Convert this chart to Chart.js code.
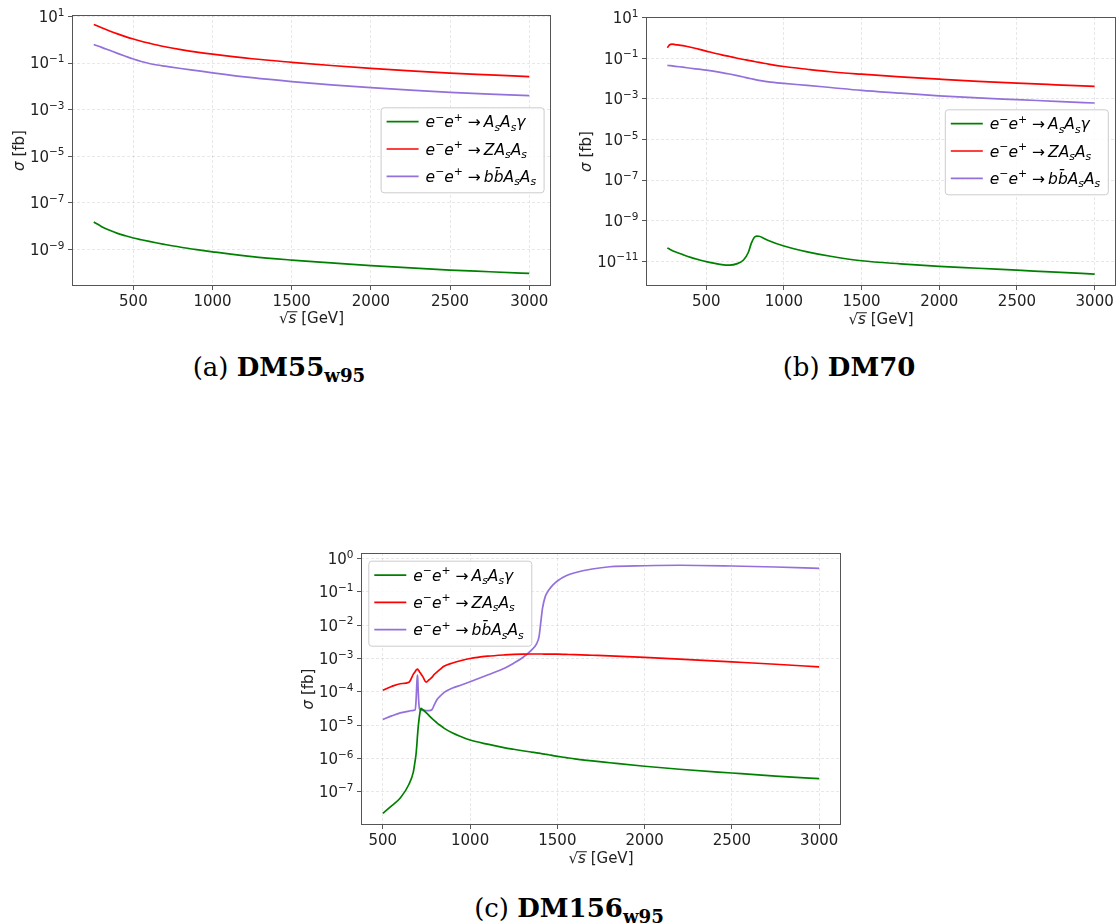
<!DOCTYPE html>
<html lang="en">
<head>
<meta charset="UTF-8">
<title>Cross sections DM55 / DM70 / DM156</title>
<script src="https://cdn.jsdelivr.net/npm/chart.js"></script>
<style>
  html, body { margin: 0; padding: 0; background: #fff; }
  body { width: 1118px; height: 924px; position: relative; overflow: hidden; }
  canvas { position: absolute; }
  .cap { position: absolute; font-family: "DejaVu Serif", serif; font-size: 26px; line-height: 30px;
         white-space: nowrap; transform: translateX(-50%); color: #000; }
  .cap sub { font-size: 70%; vertical-align: baseline; position: relative; top: 0.35em; }
</style>
</head>
<body>
<canvas id="chartA" width="560" height="335"></canvas>
<canvas id="chartB" width="558" height="335"></canvas>
<canvas id="chartC" width="560" height="335"></canvas>
<div class="cap" style="left:279px; top:352px">(a) <b>DM55<sub>w95</sub></b></div>
<div class="cap" style="left:849px; top:352px">(b) <b>DM70</b></div>
<div class="cap" style="left:569px; top:893px">(c) <b>DM156<sub>w95</sub></b></div>
<script>
// ---- data: sqrt(s) in GeV, sigma in fb ----
const energyA = [250, 300, 350, 400, 450, 500, 550, 600, 650, 700, 800, 900, 1000, 1250, 1500, 1750, 2000, 2250, 2500, 2750, 3000];
const gammaA = [1.5e-8, 9.5e-9, 6.6e-9, 4.9e-9, 3.85e-9, 3.1e-9, 2.6e-9, 2.2e-9, 1.88e-9, 1.63e-9, 1.24e-9, 9.8e-10, 7.9e-10, 4.9e-10, 3.5e-10, 2.65e-10, 2.02e-10, 1.6e-10, 1.3e-10, 1.1e-10, 9.3e-11];
const zA = [4.5, 3.25, 2.38, 1.78, 1.36, 1.07, 0.86, 0.71, 0.59, 0.50, 0.375, 0.295, 0.24, 0.152, 0.107, 0.078, 0.059, 0.046, 0.037, 0.031, 0.026];
const bbA = [0.62, 0.47, 0.35, 0.26, 0.195, 0.148, 0.116, 0.095, 0.082, 0.073, 0.058, 0.047, 0.038, 0.0235, 0.016, 0.0116, 0.0087, 0.0068, 0.0055, 0.0046, 0.004];

const energyB = [250, 265, 280, 300, 350, 400, 450, 500, 600, 650, 700, 740, 770, 790, 810, 825, 840, 870, 900, 1000, 1150, 1300, 1500, 1750, 2000, 2250, 2500, 2750, 3000];
const gammaB = [4.5e-11, 3.9e-11, 3.4e-11, 2.9e-11, 2.1e-11, 1.55e-11, 1.2e-11, 9.5e-12, 6.8e-12, 6.4e-12, 7.6e-12, 1.15e-11, 2.6e-11, 7.5e-11, 1.5e-10, 1.72e-10, 1.7e-10, 1.35e-10, 1.05e-10, 5.6e-11, 2.9e-11, 1.75e-11, 1.05e-11, 7.4e-12, 5.6e-12, 4.5e-12, 3.6e-12, 2.9e-12, 2.3e-12];
const zB = [0.33, 0.46, 0.49, 0.468, 0.417, 0.347, 0.279, 0.224, 0.146, 0.121, 0.1, 0.0867, 0.0785, 0.0733, 0.0686, 0.0653, 0.0622, 0.0565, 0.0513, 0.0389, 0.0285, 0.0215, 0.0163, 0.012, 0.0093, 0.0073, 0.0059, 0.0049, 0.0041];
const bbB = [0.044, 0.043, 0.042, 0.040, 0.036, 0.032, 0.0288, 0.0258, 0.0195, 0.0166, 0.0139, 0.0119, 0.0105, 0.0097, 0.009, 0.0085, 0.0081, 0.0074, 0.0068, 0.0057, 0.0046, 0.0036, 0.0026, 0.0019, 0.0014, 0.0011, 0.00091, 0.00075, 0.00062];

const energyC = [500, 550, 600, 650, 675, 685, 690, 695, 698, 700, 702, 705, 710, 718, 730, 748, 765, 781, 794, 810, 830, 850, 900, 950, 1000, 1100, 1200, 1250, 1300, 1350, 1380, 1395, 1405, 1415, 1430, 1450, 1475, 1500, 1550, 1600, 1700, 1800, 2000, 2200, 2500, 2750, 3000];
const gammaC = [2.3e-8, 3.8e-8, 6.6e-8, 1.7e-7, 4.0e-7, 8.5e-7, 1.3e-6, 2.6e-6, 4.4e-6, 6.0e-6, 8.0e-6, 1.15e-5, 1.9e-5, 3.2e-5, 2.9e-5, 2.4e-5, 1.95e-5, 1.6e-5, 1.4e-5, 1.18e-5, 9.8e-6, 8.2e-6, 5.8e-6, 4.5e-6, 3.6e-6, 2.7e-6, 2.1e-6, 1.9e-6, 1.72e-6, 1.57e-6, 1.49e-6, 1.45e-6, 1.42e-6, 1.39e-6, 1.35e-6, 1.3e-6, 1.23e-6, 1.17e-6, 1.07e-6, 9.8e-7, 8.5e-7, 7.5e-7, 5.9e-7, 4.8e-7, 3.7e-7, 3.0e-7, 2.5e-7];
const zC = [1.12e-4, 1.45e-4, 1.75e-4, 1.95e-4, 3.4e-4, 4.0e-4, 4.4e-4, 4.7e-4, 4.8e-4, 4.75e-4, 4.6e-4, 4.4e-4, 4.0e-4, 3.5e-4, 2.8e-4, 1.95e-4, 2.3e-4, 2.7e-4, 3.3e-4, 3.9e-4, 4.8e-4, 5.8e-4, 7.3e-4, 8.7e-4, 1.0e-3, 1.17e-3, 1.28e-3, 1.32e-3, 1.35e-3, 1.36e-3, 1.36e-3, 1.36e-3, 1.36e-3, 1.36e-3, 1.35e-3, 1.35e-3, 1.34e-3, 1.34e-3, 1.32e-3, 1.3e-3, 1.25e-3, 1.2e-3, 1.08e-3, 9.6e-4, 7.9e-4, 6.7e-4, 5.6e-4];
const bbC = [1.5e-5, 1.9e-5, 2.35e-5, 2.65e-5, 2.8e-5, 2.9e-5, 5e-5, 1.8e-4, 3.2e-4, 2.6e-4, 1.4e-4, 6e-5, 3.1e-5, 2.8e-5, 2.8e-5, 2.75e-5, 2.75e-5, 2.9e-5, 4.0e-5, 5.8e-5, 7.6e-5, 9.5e-5, 1.3e-4, 1.6e-4, 2.0e-4, 3.2e-4, 5.2e-4, 7.2e-4, 1.05e-3, 1.75e-3, 2.7e-3, 4.5e-3, 1.2e-2, 3.2e-2, 7e-2, 0.11, 0.16, 0.21, 0.3, 0.37, 0.48, 0.56, 0.6, 0.62, 0.59, 0.55, 0.5];

const xTicks = [500, 1000, 1500, 2000, 2500, 3000];
const yTicksA = [1e1, 1e-1, 1e-3, 1e-5, 1e-7, 1e-9];
const yTicksB = [1e1, 1e-1, 1e-3, 1e-5, 1e-7, 1e-9, 1e-11];
const yTicksC = [1e0, 1e-1, 1e-2, 1e-3, 1e-4, 1e-5, 1e-6, 1e-7];

const seriesNames = ['e⁻e⁺ → AₛAₛγ', 'e⁻e⁺ → ZAₛAₛ', 'e⁻e⁺ → bb̄AₛAₛ'];
const seriesColors = ['#008000', '#ff0000', '#9370db'];
const ee = [['e', 'i'], ['\u2212', 'sup'], ['e', 'i'], ['+', 'sup'], [' \u2192', 'r'], ['\u2009', 'r']];
const AsAs = [['A', 'i'], ['s', 'sub'], ['A', 'i'], ['s', 'sub']];
const legendMath = [
  ee.concat(AsAs, [['γ', 'i']]),
  ee.concat([['Z', 'i']], AsAs),
  ee.concat([['b', 'i'], ['b\u0304', 'i']], AsAs)
];

// ---- drawing helpers ----
const FONT = '"DejaVu Sans", sans-serif';
const SIZE = 15;
const spineColor = '#555555';
const textColor = '#222222';

function drawMath(ctx, segs, x, y, size) {
  for (const [t, s] of segs) {
    let fs = size, dy = 0, style = '';
    if (s === 'i') style = 'italic ';
    if (s === 'sup') { fs = size * 0.7; dy = -size * 0.42; }
    if (s === 'sub') { fs = size * 0.7; dy = size * 0.22; style = 'italic '; }
    ctx.font = style + fs + 'px ' + FONT;
    ctx.fillText(t, x, y + dy);
    x += ctx.measureText(t).width;
  }
  return x;
}

function mathWidth(ctx, segs, size) {
  let w = 0;
  for (const [t, s] of segs) {
    const fs = (s === 'sup' || s === 'sub') ? size * 0.7 : size;
    ctx.font = ((s === 'i' || s === 'sub') ? 'italic ' : '') + fs + 'px ' + FONT;
    w += ctx.measureText(t).width;
  }
  return w;
}

const frameLegend = {
  id: 'frameLegend',
  afterDraw(chart, args, opts) {
    const {ctx, chartArea: a} = chart;
    const yScale = chart.scales.y;
    ctx.save();
    ctx.textBaseline = 'alphabetic';
    ctx.textAlign = 'left';
    ctx.fillStyle = textColor;

    // y tick labels 10^n
    yScale.ticks.forEach(t => {
      const py = yScale.getPixelForValue(t.value);
      const e = String(Math.round(Math.log10(t.value))).replace('-', '\u2212');
      const segs = [['10', 'r'], [e, 'sup']];
      const w = mathWidth(ctx, segs, SIZE);
      drawMath(ctx, segs, a.left - 7.5 - w, py + SIZE * 0.365, SIZE);
    });

    // axis titles
    const cx = (a.left + a.right) / 2;
    const xt = [['\u221a', 'r'], ['s', 'i'], [' [GeV]', 'r']];
    const xw = mathWidth(ctx, xt, SIZE);
    const by = chart.height - opts.xTitle + SIZE * 0.365;
    let x0 = cx - xw / 2;
    ctx.font = SIZE + 'px ' + FONT;
    const rw = ctx.measureText('\u221a').width;
    drawMath(ctx, xt, x0, by, SIZE);
    ctx.font = 'italic ' + SIZE + 'px ' + FONT;
    const sw = ctx.measureText('s').width;
    ctx.strokeStyle = textColor;
    ctx.lineWidth = 1;
    ctx.beginPath();
    ctx.moveTo(x0 + rw - 1, by - SIZE * 0.78);
    ctx.lineTo(x0 + rw + sw + 1, by - SIZE * 0.78);
    ctx.stroke();

    ctx.save();
    ctx.translate(opts.yTitle, (a.top + a.bottom) / 2);
    ctx.rotate(-Math.PI / 2);
    const yt = [['σ', 'i'], [' [fb]', 'r']];
    const yw = mathWidth(ctx, yt, SIZE);
    drawMath(ctx, yt, -yw / 2, SIZE * 0.365, SIZE);
    ctx.restore();

    // frame
    ctx.strokeStyle = spineColor;
    ctx.lineWidth = 1;
    ctx.strokeRect(Math.round(a.left) + 0.5, Math.round(a.top) + 0.5,
                   Math.round(a.right - a.left) - 1, Math.round(a.bottom - a.top) - 1);

    // legend
    const [bx, bY] = opts.box;
    ctx.beginPath();
    if (ctx.roundRect) ctx.roundRect(bx + 0.5, bY + 0.5, 163, 85, 3);
    else ctx.rect(bx + 0.5, bY + 0.5, 163, 85);
    ctx.fillStyle = 'rgba(255,255,255,0.8)';
    ctx.fill();
    ctx.strokeStyle = '#cccccc';
    ctx.stroke();

    chart.data.datasets.forEach((ds, i) => {
      const cy = bY + 14.4 + i * 27.3;
      ctx.strokeStyle = ds.borderColor;
      ctx.lineWidth = ds.borderWidth;
      ctx.beginPath();
      ctx.moveTo(bx + 6, cy);
      ctx.lineTo(bx + 38, cy);
      ctx.stroke();
      ctx.fillStyle = '#000';
      drawMath(ctx, legendMath[i], bx + 45, cy + 5.5, 15.5);
    });
    ctx.restore();
  }
};

function makeChart(id, cfg) {
  const canvas = document.getElementById(id);
  canvas.style.left = cfg.canvas[0] + 'px';
  canvas.style.top = cfg.canvas[1] + 'px';
  const [cl, ct] = cfg.canvas;
  const cw = canvas.width, ch = canvas.height;
  const [al, at, ar, ab] = cfg.area;

  const datasets = cfg.series.map((vals, i) => ({
    label: seriesNames[i],
    data: cfg.energy.map((e, j) => ({x: e, y: vals[j]})),
    borderColor: seriesColors[i],
    borderWidth: 1.7,
    pointRadius: 0,
    cubicInterpolationMode: 'monotone',
    fill: false
  }));

  const gridOpts = {
    color: 'rgba(0,0,0,0.1)',
    lineWidth: 0.9,
    drawTicks: true,
    tickLength: 4,
    tickColor: spineColor,
    tickWidth: 1,
    tickBorderDash: []
  };

  return new Chart(canvas, {
    type: 'line',
    data: {datasets},
    plugins: [frameLegend],
    options: {
      responsive: false,
      animation: false,
      layout: {padding: {left: 0, top: at - ct, right: cl + cw - ar, bottom: 0}},
      plugins: {
        legend: {display: false},
        tooltip: {enabled: false},
        frameLegend: {box: [cfg.legend[0] - cl, cfg.legend[1] - ct], xTitle: cfg.xTitle, yTitle: cfg.yTitle}
      },
      scales: {
        x: {
          type: 'linear',
          min: cfg.xRange[0],
          max: cfg.xRange[1],
          afterBuildTicks: s => { s.ticks = xTicks.map(v => ({value: v})); },
          afterFit: s => { s.height = ct + ch - ab; },
          grid: gridOpts,
          border: {display: false, dash: [3, 2]},
          ticks: {color: textColor, padding: 3, maxRotation: 0, font: {family: FONT, size: SIZE},
                  callback: v => String(v)}
        },
        y: {
          type: 'logarithmic',
          min: Math.pow(10, cfg.yLog[0]),
          max: Math.pow(10, cfg.yLog[1]),
          afterBuildTicks: s => { s.ticks = cfg.yTicks.map(v => ({value: v})); },
          afterFit: s => { s.width = al - cl; },
          grid: gridOpts,
          border: {display: false, dash: [3, 2]},
          ticks: {display: false}
        }
      }
    }
  });
}

makeChart('chartA', {
  canvas: [0, 0], area: [72, 15, 551, 286],
  energy: energyA, series: [gammaA, zA, bbA],
  xRange: [112.5, 3137.5], yLog: [-10.57, 1.06], yTicks: yTicksA,
  legend: [380.6, 107.3], xTitle: 17, yTitle: 18.5
});
makeChart('chartB', {
  canvas: [560, 0], area: [646, 17, 1116, 286],
  energy: energyB, series: [gammaB, zB, bbB],
  xRange: [112.5, 3137.5], yLog: [-12.2, 1.03], yTicks: yTicksB,
  legend: [944.8, 109.3], xTitle: 16, yTitle: 25.5
});
makeChart('chartC', {
  canvas: [290, 540], area: [361, 553, 841, 825],
  energy: energyC, series: [gammaC, zC, bbC],
  xRange: [375, 3125], yLog: [-7.99, 0.16], yTicks: yTicksC,
  legend: [368.3, 560.7], xTitle: 17, yTitle: 18
});
</script>
</body>
</html>
